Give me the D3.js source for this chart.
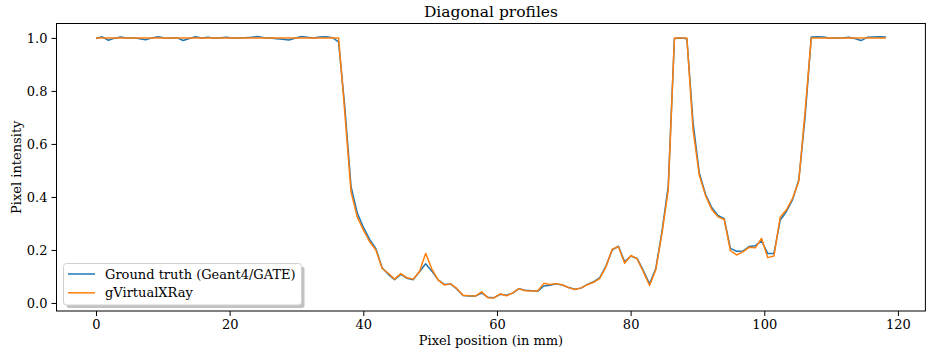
<!DOCTYPE html>
<html>
<head>
<meta charset="utf-8">
<script src="https://cdn.jsdelivr.net/npm/d3@7"></script>
<style>
  body { margin: 0; background: #fff; }
  svg { display: block; font-family: "DejaVu Serif", serif; }
</style>
</head>
<body>
<div id="chart"></div>
<script>
// Profile sampled along the diagonal (128 samples, 0 .. 118.2 mm)
const profileLength = 118.2;
const sampleCount = 128;

const groundTruth = [
  0.998, 1.004, 0.991, 0.999, 1.003, 0.999, 1.001, 0.997, 0.993, 1.0,
  1.004, 1.0, 0.999, 1.001, 0.99, 0.998, 1.004, 1.0, 1.002, 0.999,
  1.001, 1.002, 0.999, 1.0, 1.001, 1.002, 1.005, 1.001, 1.0, 0.997,
  0.995, 0.992, 0.999, 1.005, 1.002, 1.0, 1.003, 1.004, 1.001, 0.985,
  0.74, 0.44, 0.34, 0.285, 0.24, 0.205, 0.133, 0.108, 0.088, 0.108,
  0.093, 0.088, 0.118, 0.148, 0.12, 0.087, 0.07, 0.072, 0.053, 0.028,
  0.026, 0.026, 0.037, 0.022, 0.02, 0.033, 0.029, 0.037, 0.054, 0.048,
  0.046, 0.044, 0.064, 0.067, 0.072, 0.068, 0.058, 0.052, 0.056, 0.07,
  0.08, 0.096, 0.14, 0.2, 0.214, 0.155, 0.177, 0.168, 0.122, 0.072,
  0.13, 0.27, 0.44, 0.998, 1.0, 0.997, 0.68, 0.49, 0.41, 0.36,
  0.33, 0.318, 0.206, 0.195, 0.196, 0.213, 0.216, 0.234, 0.187, 0.187,
  0.312, 0.345, 0.39, 0.465, 0.7, 1.003, 1.004, 1.003, 0.999, 1.0,
  1.0, 1.002, 0.998, 0.99, 1.002, 1.003, 1.004, 1.003
];

const gvxr = [
  1.0, 1.0, 1.0, 1.0, 1.0, 1.0, 1.0, 1.0, 1.0, 1.0,
  1.0, 1.0, 1.0, 1.0, 1.0, 1.0, 1.0, 1.0, 1.0, 1.0,
  1.0, 1.0, 1.0, 1.0, 1.0, 1.0, 1.0, 1.0, 1.0, 1.0,
  1.0, 1.0, 1.0, 1.0, 1.0, 1.0, 1.0, 1.0, 1.0, 1.0,
  0.72, 0.42, 0.325, 0.275, 0.231, 0.2, 0.131, 0.112, 0.09, 0.111,
  0.095, 0.09, 0.118, 0.187, 0.128, 0.087, 0.068, 0.072, 0.055, 0.029,
  0.027, 0.026, 0.042, 0.02, 0.019, 0.034, 0.027, 0.038, 0.054, 0.046,
  0.045, 0.045, 0.074, 0.07, 0.073, 0.068, 0.058, 0.051, 0.057, 0.069,
  0.078, 0.093, 0.137, 0.203, 0.212, 0.15, 0.179, 0.166, 0.118, 0.066,
  0.125, 0.263, 0.425, 1.0, 1.0, 1.0, 0.652, 0.482, 0.405, 0.353,
  0.325, 0.315, 0.197, 0.181, 0.193, 0.21, 0.208, 0.244, 0.171, 0.177,
  0.323, 0.351, 0.395, 0.46, 0.72, 1.0, 1.0, 1.0, 1.0, 1.0,
  1.0, 1.0, 1.0, 1.0, 1.0, 1.0, 1.0, 1.0
];

const seriesNames = ["Ground truth (Geant4/GATE)", "gVirtualXRay"];
const seriesColors = ["#1f77b4", "#ff7f0e"];
const xTicks = [0, 20, 40, 60, 80, 100, 120];
const yTicks = [0.0, 0.2, 0.4, 0.6, 0.8, 1.0];

const positions = d3.range(sampleCount).map(i => i * profileLength / (sampleCount - 1));

const width = 926;
const height = 353;
const margin = { top: 23.5, right: 0.6, bottom: 42, left: 56.5 };

const svg = d3.select("#chart").append("svg")
  .attr("width", width)
  .attr("height", height);

// matplotlib-like 5% autoscale padding
function padded(extent) {
  const pad = (extent[1] - extent[0]) * 0.05;
  return [extent[0] - pad, extent[1] + pad];
}

const allValues = groundTruth.concat(gvxr);

const x = d3.scaleLinear()
  .domain(padded(d3.extent(positions)))
  .range([margin.left, width - margin.right]);

const y = d3.scaleLinear()
  .domain(padded(d3.extent(allValues)))
  .range([height - margin.bottom, margin.top]);

// Axes
const xAxis = svg.append("g")
  .attr("transform", `translate(0,${height - margin.bottom})`)
  .call(d3.axisBottom(x).tickValues(xTicks).tickSize(5).tickPadding(4).tickFormat(d3.format("d")));

const yAxis = svg.append("g")
  .attr("transform", `translate(${margin.left},0)`)
  .call(d3.axisLeft(y).tickValues(yTicks).tickSize(5).tickPadding(4).tickFormat(d3.format(".1f")));

[xAxis, yAxis].forEach(a => {
  a.select(".domain").remove();
  a.selectAll(".tick line").attr("stroke", "#000").attr("stroke-width", 1);
  a.selectAll(".tick text")
    .style("font-family", "DejaVu Serif")
    .style("font-size", "13px")
    .attr("fill", "#000");
});

// Lines
const line = d3.line()
  .x((d, i) => x(positions[i]))
  .y(d => y(d));

[groundTruth, gvxr].forEach((values, k) => {
  svg.append("path")
    .datum(values)
    .attr("fill", "none")
    .attr("stroke", seriesColors[k])
    .attr("stroke-width", 1.5)
    .attr("stroke-linejoin", "round")
    .attr("d", line);
});

// Frame
svg.append("rect")
  .attr("x", margin.left)
  .attr("y", margin.top)
  .attr("width", width - margin.right - margin.left)
  .attr("height", height - margin.bottom - margin.top)
  .attr("fill", "none")
  .attr("stroke", "#000")
  .attr("stroke-width", 1);

// Title and axis labels
svg.append("text")
  .attr("x", (margin.left + width - margin.right) / 2)
  .attr("y", 17)
  .attr("text-anchor", "middle")
  .style("font-size", "15.5px")
  .text("Diagonal profiles");

svg.append("text")
  .attr("x", (margin.left + width - margin.right) / 2)
  .attr("y", 345)
  .attr("text-anchor", "middle")
  .style("font-size", "13px")
  .text("Pixel position (in mm)");

svg.append("text")
  .attr("transform", `translate(21,${(margin.top + height - margin.bottom) / 2}) rotate(-90)`)
  .attr("text-anchor", "middle")
  .style("font-size", "13px")
  .text("Pixel intensity");

// Legend with drop shadow
const legend = svg.append("g").attr("transform", "translate(63.5,263.5)");
const lw = 238, lh = 41.5;

legend.append("rect")
  .attr("x", 3).attr("y", 3)
  .attr("width", lw).attr("height", lh)
  .attr("rx", 3)
  .attr("fill", "#999")
  .attr("opacity", 0.6);

legend.append("rect")
  .attr("width", lw).attr("height", lh)
  .attr("rx", 3)
  .attr("fill", "#fff")
  .attr("stroke", "#d0d0d0")
  .attr("stroke-width", 1);

seriesNames.forEach((name, k) => {
  const ly = 10.5 + k * 18.8;
  legend.append("line")
    .attr("x1", 4.5).attr("x2", 31.5)
    .attr("y1", ly).attr("y2", ly)
    .attr("stroke", seriesColors[k])
    .attr("stroke-width", 1.5);
  legend.append("text")
    .attr("x", 41.5)
    .attr("y", ly + 4.5)
    .style("font-size", "13px")
    .text(name);
});
</script>
</body>
</html>
